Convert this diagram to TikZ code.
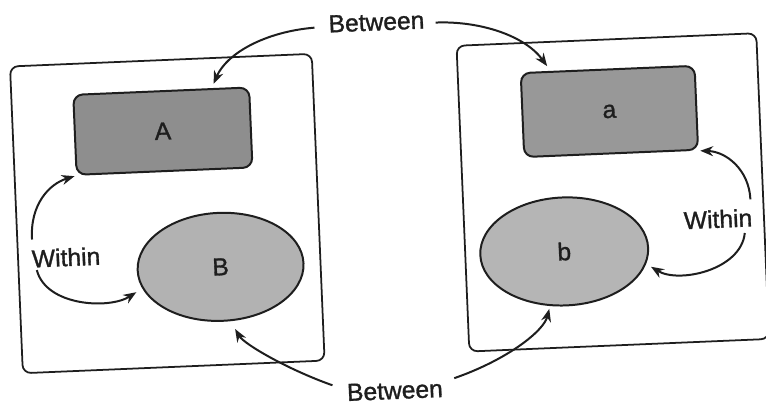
\documentclass[tikz,border=0pt]{standalone}
\usepackage{fontspec}
\setmainfont{Liberation Sans}
\newfontfamily\lblfam{Liberation Sans}[RawFeature={embolden=1.2}]
\usetikzlibrary{shapes.geometric,arrows.meta}
\definecolor{fillA}{HTML}{8E8E8E}
\definecolor{filla}{HTML}{989898}
\definecolor{fillB}{HTML}{B2B2B2}
\definecolor{fillb}{HTML}{B5B5B5}
\definecolor{inkc}{HTML}{1E1E1E}
\newcommand\lblfont{\lblfam\fontsize{21}{25}\selectfont}
\begin{document}
\begin{tikzpicture}[x=0.03cm,y=-0.03cm,
  outerbox/.style={draw=inkc, line width=1.5pt, rounded corners=7pt, inner sep=0pt},
  grect/.style={draw=inkc, line width=1.7pt, rounded corners=8pt, inner sep=0pt, font=\lblfont, text=inkc},
  oval/.style={ellipse, draw=inkc, line width=1.7pt, inner sep=0pt, font=\lblfont, text=inkc},
  lbl/.style={inner sep=0pt, font=\lblfont, text=inkc},
  arr/.style={draw=inkc, line width=1.7pt, -{Stealth[length=11pt,width=8.5pt]}}]
\useasboundingbox (0,0) rectangle (766,405);
\fill[white] (0,0) rectangle (766,405);
\begin{scope}[rotate around={2.4:(383,202)}, transform shape]
  % outer frames
  \node[outerbox, minimum width=9.06cm, minimum height=9.21cm] (L) at (167,204.5) {};
  \node[outerbox, minimum width=9.0cm, minimum height=9.18cm] (R) at (613,202) {};
  % shapes
  \node[grect, fill=fillA, minimum width=5.28cm, minimum height=2.4cm] (A) at (166,122) {A};
  \node[grect, fill=filla, minimum width=5.22cm, minimum height=2.52cm] (a) at (613,121) {a};
  \node[oval, fill=fillB, minimum width=4.98cm, minimum height=3.24cm] (B) at (218,260) {B};
  \node[oval, fill=fillb, minimum width=5.04cm, minimum height=3.24cm] (b) at (562,259) {b};
  % labels
  \node[lbl] (Btop) at (384,22) {Between};
  \node[lbl] (Bbot) at (387,391) {Between};
  \node[lbl] (Wl) at (64,244) {Within};
  \node[lbl] (Wr) at (717,233) {Within};
  % between arrows
  \draw[arr, shorten >=4pt] ([xshift=-12pt,yshift=-2.5pt]Btop.west) .. controls (272,27) and (233,47) .. (A.39);
  \draw[arr, shorten >=5pt] ([xshift=9.4pt,yshift=-2.5pt]Btop.east) .. controls (488,25) and (532,42) .. (a.143);
  \draw[arr, shorten >=7.7pt] ([xshift=-12pt,yshift=6.8pt]Bbot.west) .. controls (280,365) and (238,338) .. (B.278);
  \draw[arr, shorten >=2.5pt] ([xshift=10pt,yshift=8.5pt]Bbot.east) .. controls (500,365) and (538,338) .. (b.253);
  % within arrows
  \draw[arr, shorten >=1pt] ([xshift=1pt,yshift=8.5pt]Wl.north west) .. controls (30,190) and (50,170) .. (A.south west);
  \draw[arr, shorten >=6pt] ([xshift=4pt,yshift=-2pt]Wl.south west) .. controls (42,292) and (105,298) .. (B.193);
  \draw[arr, shorten >=1pt] ([xshift=-1pt,yshift=7.7pt]Wr.north east) .. controls (750,185) and (728,166) .. (a.south east);
  \draw[arr, shorten >=4.8pt] ([xshift=-7pt,yshift=-5pt]Wr.south east) .. controls (738,285) and (675,296) .. (b.349);
\end{scope}
\end{tikzpicture}
\end{document}
